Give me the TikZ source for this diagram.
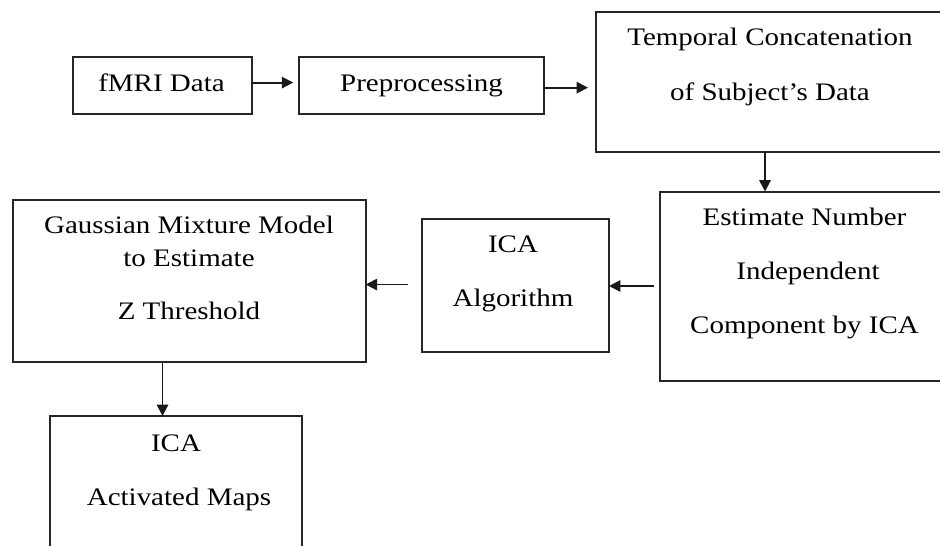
\documentclass[tikz,border=0pt]{standalone}
\usepackage{fontspec}
\setmainfont[FakeStretch=1.15]{Liberation Serif}
\usetikzlibrary{arrows.meta}
\begin{document}
\begin{tikzpicture}[x=0.75pt,y=-0.75pt,
  box/.style={draw=black!85,line width=1.5pt,inner sep=0pt,outer sep=0pt},
  lbl/.style={anchor=base,inner sep=0pt,font=\fontsize{18.9pt}{22pt}\selectfont,text=black},
  arr/.style={draw=black!90,line width=1.4pt,-{Triangle[length=8.5pt,width=8.5pt]}}]
\useasboundingbox (0,0) rectangle (940,546);
\clip (0,0) rectangle (940,546);
\fill[white] (0,0) rectangle (940,546);
% boxes
\node[box,minimum width=179*0.75pt,minimum height=56.7*0.75pt] (fmri) at (162.2,85.65) {};
\node[box,minimum width=244.6*0.75pt,minimum height=56.7*0.75pt] (prep) at (421.5,85.65) {};
\node[box,minimum width=349*0.75pt,minimum height=139.7*0.75pt] (temp) at (770.5,82.15) {};
\node[box,minimum width=290*0.75pt,minimum height=189*0.75pt] (est) at (804.5,286) {};
\node[box,minimum width=187.5*0.75pt,minimum height=133*0.75pt] (ica) at (515.25,285.2) {};
\node[box,minimum width=353*0.75pt,minimum height=161.7*0.75pt] (gmm) at (189.2,280.85) {};
\node[box,minimum width=251.2*0.75pt,minimum height=144*0.75pt] (map) at (176,488) {};
% texts
\node[lbl] (t1) at (161.5,91.7) {fMRI Data};
\node[lbl] (t2) at (421.5,91.7) {Preprocessing};
\node[lbl] (t3a) at (770,45.7) {Temporal Concatenation};
\node[lbl] (t3b) at (770,100.5) {of Subject’s Data};
\node[lbl] (t4a) at (804.5,225) {Estimate Number};
\node[lbl] (t4b) at (808,279.5) {Independent};
\node[lbl] (t4c) at (804.5,333.5) {Component by ICA};
\node[lbl] (t5a) at (513,252) {ICA};
\node[lbl] (t5b) at (513,306) {Algorithm};
\node[lbl] (t6a) at (189,233.3) {Gaussian Mixture Model};
\node[lbl] (t6b) at (189,266) {to Estimate};
\node[lbl] (t6c) at (189,319.3) {Z Threshold};
\node[lbl] (t7a) at (176,451) {ICA};
\node[lbl] (t7b) at (179,505) {Activated Maps};
% connectors
\draw[arr,shorten >=4.5pt] ([yshift=2.3pt]fmri.east) -- ([yshift=2.3pt]prep.west);
\draw[arr,shorten >=6pt] ([yshift=-1.5pt]prep.east) -- ([yshift=-1.5pt]prep.east -| temp.west);
\draw[arr] ([xshift=-4.1pt]temp.south) -- ([xshift=-4.1pt]temp.south |- est.north);
\draw[arr,shorten <=4.5pt] (est.west) -- (est.west -| ica.east);
\draw[arr,shorten <=10pt] ([yshift=0.5pt]ica.west) -- ([yshift=0.5pt]ica.west -| gmm.east);
\draw[arr] ([xshift=-20pt]gmm.south) -- ([xshift=-20pt]gmm.south |- map.north);
\end{tikzpicture}
\end{document}
